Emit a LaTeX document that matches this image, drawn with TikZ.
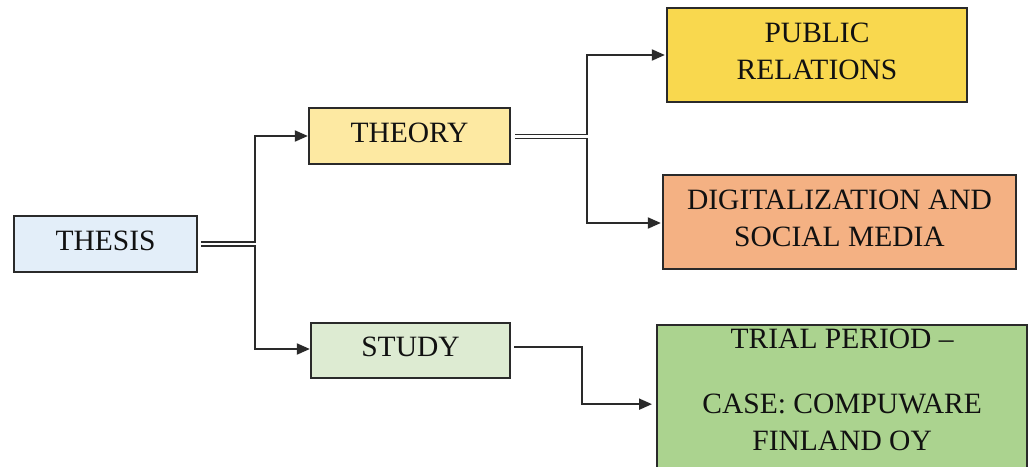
\documentclass[tikz,border=0pt]{standalone}
\usepackage{fontspec}
\setmainfont{Liberation Serif}
\usetikzlibrary{arrows.meta,calc}
\definecolor{thesisc}{HTML}{E3EEF9}
\definecolor{theoryc}{HTML}{FDE9A2}
\definecolor{studyc}{HTML}{DDEBD2}
\definecolor{publicc}{HTML}{F9D84E}
\definecolor{digic}{HTML}{F4B183}
\definecolor{trialc}{HTML}{ABD38F}
\definecolor{edgec}{HTML}{2A2A2A}
\definecolor{txtc}{HTML}{111111}
\newcommand\lowstrut[1]{\rule[-#1]{0pt}{#1}}
\begin{document}
\begin{tikzpicture}[x=1pt,y=-1pt,
  box/.style={draw=edgec, line width=2.3pt, rectangle, inner sep=4pt, align=center,
    text=txtc, font=\fontsize{29.5}{37}\selectfont},
  conn/.style={draw=edgec, line width=1.9pt},
  arr/.style={conn, -{Triangle[length=13pt,width=11pt]}}]
\useasboundingbox (0,0) rectangle (1028,466);
\clip (0,0) rectangle (1028,466);
\fill[white] (0,0) rectangle (1028,466);

\node[box, fill=thesisc, minimum width=183, minimum height=56] (thesis) at (105.5,244) {THESIS\lowstrut{7pt}};
\node[box, fill=theoryc, minimum width=201, minimum height=56] (theory) at (409.5,136) {THEORY\lowstrut{7pt}};
\node[box, fill=studyc, minimum width=199, minimum height=55] (study) at (410.5,350.5) {STUDY\lowstrut{7pt}};
\node[box, fill=publicc, minimum width=300, minimum height=94] (public) at (817,55) {PUBLIC\\RELATIONS\lowstrut{7pt}};
\node[box, fill=digic, minimum width=353, minimum height=94] (digi) at (839.5,222) {DIGITALIZATION AND\\SOCIAL MEDIA\lowstrut{8pt}};
\node[box, fill=trialc, minimum width=370, minimum height=146, anchor=north west] (trial) at (656,324)
  {TRIAL PERIOD --\\[28pt]CASE: COMPUWARE\\FINLAND OY\lowstrut{16pt}};

% THESIS -> THEORY / STUDY (double line split)
\draw[arr] ([xshift=3pt,yshift=2pt]thesis.east) -| ([xshift=-53pt]theory.west) -- (theory.west);
\draw[arr] ([xshift=3pt,yshift=-2pt]thesis.east) -| ([xshift=-55pt,yshift=1.5pt]study.west) -- ([yshift=1.5pt]study.west);

% THEORY -> PUBLIC / DIGI
\draw[arr] ([xshift=4pt,yshift=1.5pt]theory.east) -| ([xshift=-79pt]public.west) -- ([xshift=-1pt]public.west);
\draw[arr] ([xshift=4pt,yshift=-2.5pt]theory.east) -| ([xshift=-75pt,yshift=-1pt]digi.west) -- ([xshift=-1pt,yshift=-1pt]digi.west);

% STUDY -> TRIAL
\draw[arr] ([xshift=3pt,yshift=3.5pt]study.east) -| ([xshift=-74pt,yshift=-6pt]trial.west) -- ([xshift=-4pt,yshift=-6pt]trial.west);
\end{tikzpicture}
\end{document}
